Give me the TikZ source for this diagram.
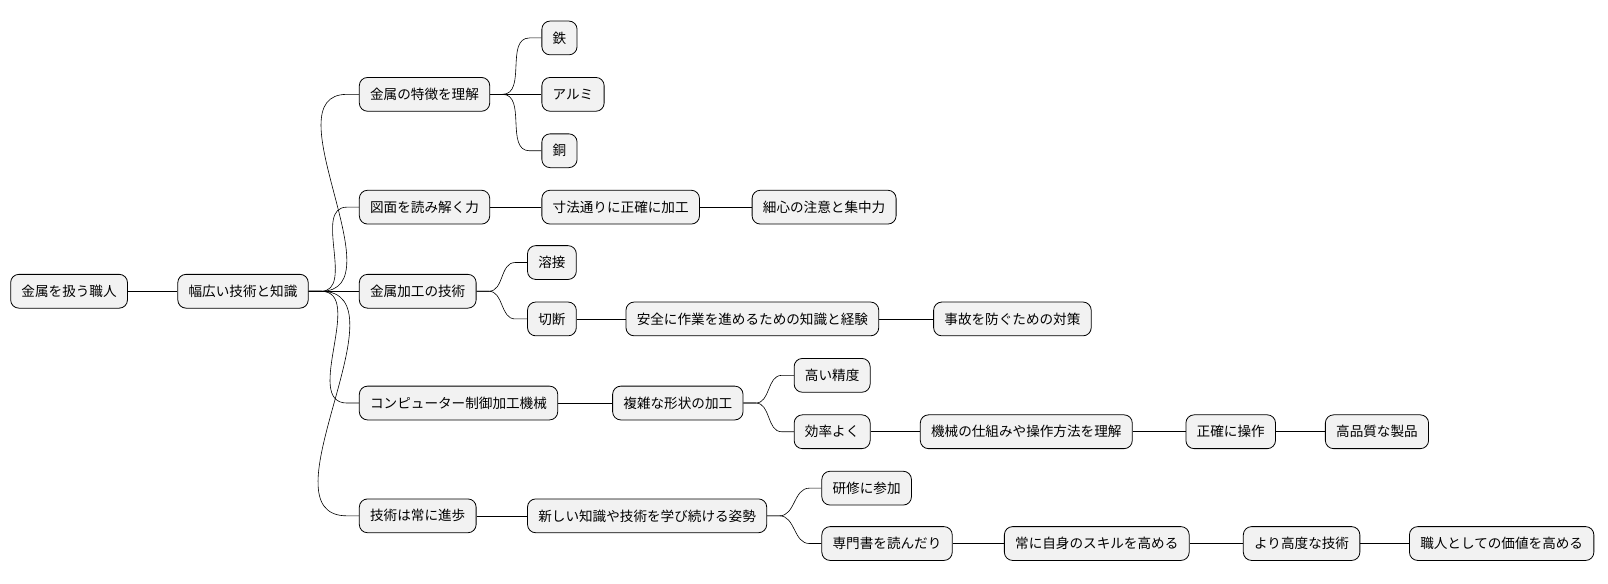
\documentclass[tikz,border=0pt]{standalone}
\usepackage{fontspec}
\setmainfont{Noto Sans CJK JP}
\usepackage{tikz}
\usetikzlibrary{shapes,arrows}

\begin{document}
\begin{tikzpicture}[x=1.0255pt,y=-1.0255pt,
    topic/.style={draw=black, fill=black!5, rounded corners=8.2pt, anchor=west,
      minimum height=33.8pt, inner xsep=10.8pt, font=\fontsize{13.6pt}{15pt}\selectfont, line width=0.8pt},
    link/.style={draw=black, line width=0.6pt}]
       % canvas
       \useasboundingbox (0,0) rectangle (1568,568.5);
       % root and first level
       \node[topic] (root) at (10,284) {金属を扱う職人};
       \node[topic] (wide) at (173,284) {幅広い技術と知識};
       \node[topic] (feat) at (350,92) {金属の特徴を理解};
       \node[topic] (iron) at (528,37) {鉄};
       \node[topic] (alu) at (528,92) {アルミ};
       \node[topic] (cu) at (528,147) {銅};
       \node[topic] (draw) at (350,202) {図面を読み解く力};
       \node[topic] (exact) at (528,202) {寸法通りに正確に加工};
       \node[topic] (care) at (733,202) {細心の注意と集中力};
       \node[topic] (work) at (350,284) {金属加工の技術};
       \node[topic] (weld) at (514,256) {溶接};
       \node[topic] (cut) at (514,311) {切断};
       \node[topic] (safe) at (610,311) {安全に作業を進めるための知識と経験};
       \node[topic] (acc) at (910,311) {事故を防ぐための対策};
       \node[topic] (cnc) at (350,393) {コンピューター制御加工機械};
       \node[topic] (cplx) at (597,393) {複雑な形状の加工};
       \node[topic] (prec) at (774,366) {高い精度};
       \node[topic] (eff) at (774,421) {効率よく};
       \node[topic] (mech) at (897,421) {機械の仕組みや操作方法を理解};
       \node[topic] (oper) at (1156,421) {正確に操作};
       \node[topic] (qual) at (1292,421) {高品質な製品};
       \node[topic] (prog) at (350,503) {技術は常に進歩};
       \node[topic] (learn) at (514,503) {新しい知識や技術を学び続ける姿勢};
       \node[topic] (train) at (801,476) {研修に参加};
       \node[topic] (book) at (801,530) {専門書を読んだり};
       \node[topic] (skill) at (979,530) {常に自身のスキルを高める};
       \node[topic] (adv) at (1212,530) {より高度な技術};
       \node[topic] (value) at (1374,530) {職人としての価値を高める};

       % connectors
       \foreach \p/\c in {root/wide, wide/feat, feat/iron, feat/alu, feat/cu,
           wide/draw, draw/exact, exact/care, wide/work, work/weld, work/cut,
           cut/safe, safe/acc, wide/cnc, cnc/cplx, cplx/prec, cplx/eff,
           eff/mech, mech/oper, oper/qual, wide/prog, prog/learn, learn/train,
           learn/book, book/skill, skill/adv, adv/value}
         \draw[link] (\p.east) -- ++(12,0) to[out=0,in=180] ([xshift=-12pt]\c.west) -- (\c.west);
\end{tikzpicture}
\end{document}
